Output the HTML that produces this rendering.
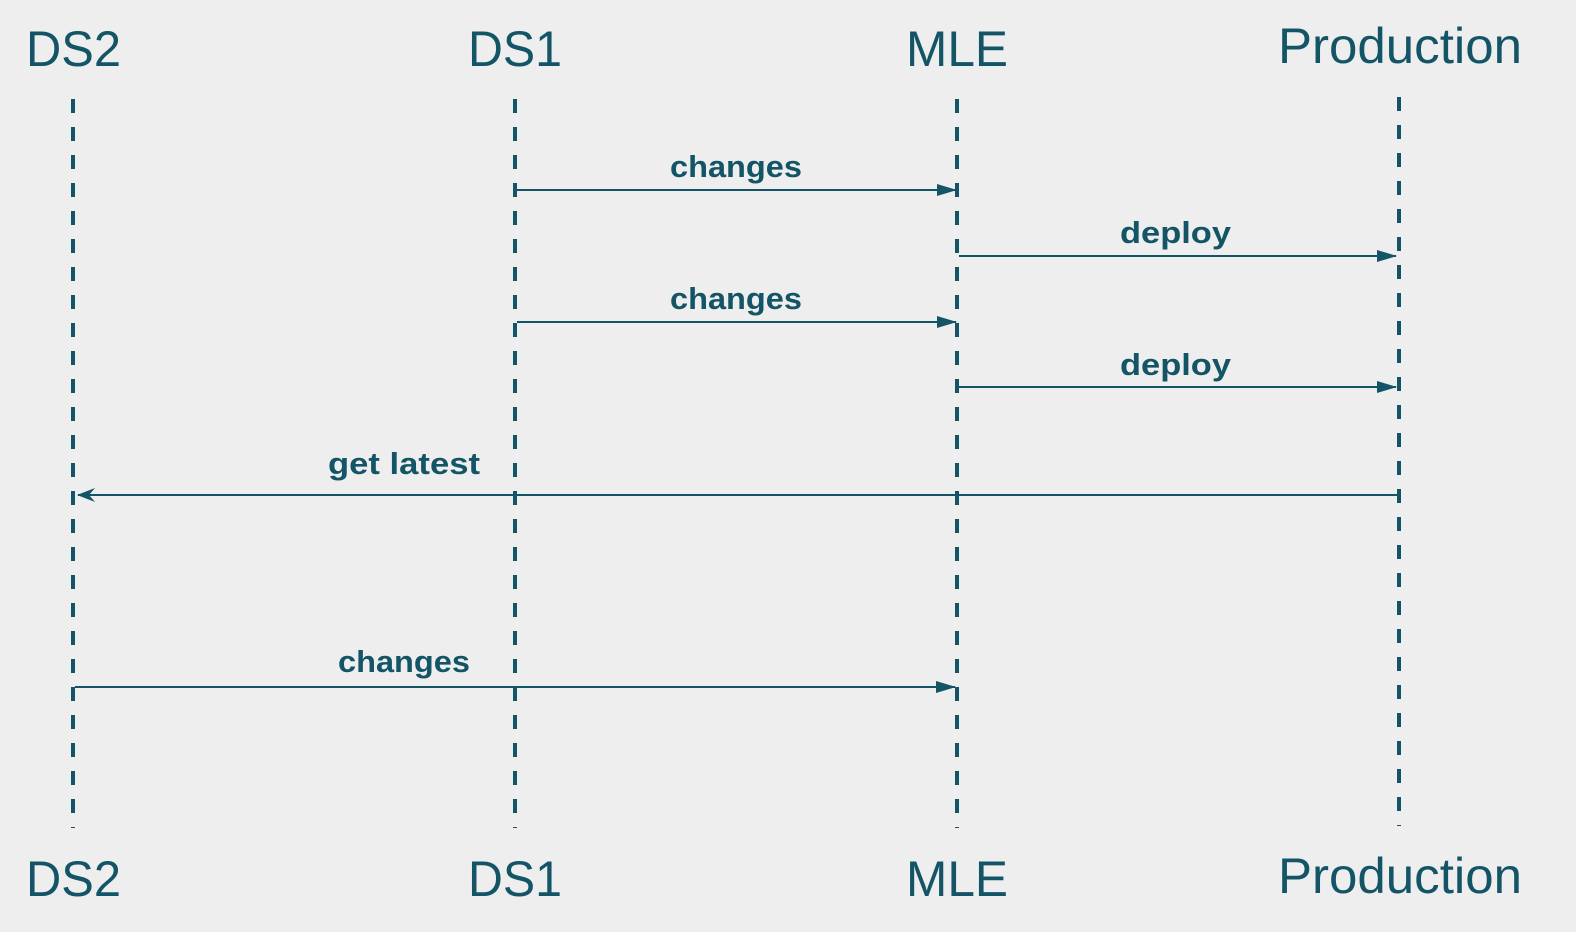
<!DOCTYPE html>
<html><head><meta charset="utf-8"><style>
html,body{margin:0;padding:0;background:#eeeeee;}
svg{display:block;}
</style></head><body>
<svg width="1576" height="932" viewBox="0 0 1576 932" xmlns="http://www.w3.org/2000/svg">
<rect width="1576" height="932" fill="#eeeeee"/>
<defs>
<marker id="a" markerWidth="20" markerHeight="12" refX="19" refY="6" orient="auto" markerUnits="userSpaceOnUse">
<path d="M0,0 L20,6 L0,12 Z" fill="#135566"/>
</marker>
<marker id="b" markerWidth="18" markerHeight="14" refX="17" refY="7" orient="auto" markerUnits="userSpaceOnUse">
<path d="M0,0 L18,7 L0,14 L6,7 Z" fill="#135566"/>
</marker>
</defs>
<g stroke="#135566" stroke-width="4" stroke-dasharray="14 14">
<line x1="73" y1="99" x2="73" y2="828"/>
<line x1="515" y1="99" x2="515" y2="828"/>
<line x1="957" y1="99" x2="957" y2="828"/>
<line x1="1399" y1="97" x2="1399" y2="826"/>
</g>
<g stroke="#135566" stroke-width="2" fill="none">
<line x1="517" y1="190" x2="956" y2="190" marker-end="url(#a)"/>
<line x1="959" y1="256" x2="1396" y2="256" marker-end="url(#a)"/>
<line x1="517" y1="322" x2="956" y2="322" marker-end="url(#a)"/>
<line x1="959" y1="387" x2="1396" y2="387" marker-end="url(#a)"/>
<line x1="1399" y1="495" x2="78" y2="495" marker-end="url(#b)"/>
<line x1="75" y1="687" x2="955" y2="687" marker-end="url(#a)"/>
</g>
<g fill="#135566" font-family="Liberation Sans, sans-serif" font-size="50" font-weight="300">
<text x="26" y="66" textLength="95" lengthAdjust="spacingAndGlyphs">DS2</text>
<text x="468" y="66" textLength="94" lengthAdjust="spacingAndGlyphs">DS1</text>
<text x="906" y="66" textLength="102" lengthAdjust="spacingAndGlyphs">MLE</text>
<text x="1278" y="63" textLength="244" lengthAdjust="spacingAndGlyphs">Production</text>
<text x="26" y="896" textLength="95" lengthAdjust="spacingAndGlyphs">DS2</text>
<text x="468" y="896" textLength="94" lengthAdjust="spacingAndGlyphs">DS1</text>
<text x="906" y="896" textLength="102" lengthAdjust="spacingAndGlyphs">MLE</text>
<text x="1278" y="893" textLength="244" lengthAdjust="spacingAndGlyphs">Production</text>
</g>
<g fill="#135566" font-family="Liberation Sans, sans-serif" font-size="31" font-weight="bold">
<text x="670" y="177" textLength="132" lengthAdjust="spacingAndGlyphs">changes</text>
<text x="1120" y="243" textLength="111" lengthAdjust="spacingAndGlyphs">deploy</text>
<text x="670" y="309" textLength="132" lengthAdjust="spacingAndGlyphs">changes</text>
<text x="1120" y="375" textLength="111" lengthAdjust="spacingAndGlyphs">deploy</text>
<text x="328" y="474" textLength="152" lengthAdjust="spacingAndGlyphs">get latest</text>
<text x="338" y="672" textLength="132" lengthAdjust="spacingAndGlyphs">changes</text>
</g>
</svg>
</body></html>
